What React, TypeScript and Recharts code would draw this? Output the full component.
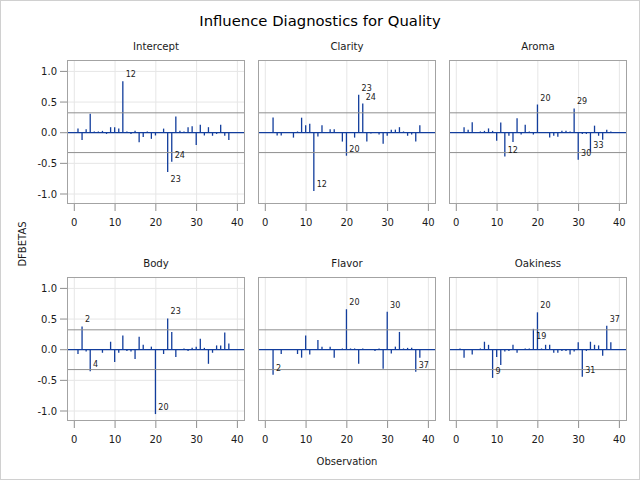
import {
  ComposedChart,
  Bar,
  Scatter,
  XAxis,
  YAxis,
  CartesianGrid,
  ReferenceLine,
} from "recharts";

const OBS = [
  1, 2, 3, 4, 5, 6, 7, 8, 9, 10, 11, 12, 13, 14, 15, 16, 17, 18, 19, 20, 21,
  22, 23, 24, 25, 26, 27, 28, 29, 30, 31, 32, 33, 34, 35, 36, 37, 38,
];

const INTERCEPT = [
  0.067, -0.12, 0.055, 0.31, 0.02, 0.02, 0.03, -0.02, 0.09, 0.09, 0.07, 0.84,
  0.02, -0.02, 0.03, -0.155, -0.07, 0.02, -0.1, -0.045, 0.0, 0.067, -0.64,
  -0.475, 0.265, 0.03, 0.02, 0.09, 0.105, -0.2, 0.13, -0.045, 0.09, -0.05,
  -0.02, 0.13, -0.05, -0.12,
];
const CLARITY = [
  0.0, 0.25, -0.045, -0.045, 0.0, 0.0, -0.08, 0.02, 0.245, 0.12, 0.145, -0.95,
  -0.06, 0.12, 0.0, 0.055, 0.055, 0.0, -0.145, -0.375, 0.0, -0.08, 0.62,
  0.475, -0.145, -0.015, 0.0, -0.03, -0.18, -0.05, 0.05, 0.05, 0.09, 0.02,
  -0.05, -0.03, -0.145, 0.12,
];
const AROMA = [
  0.0, 0.09, 0.05, 0.17, 0.0, 0.02, 0.03, 0.07, 0.03, -0.13, 0.165, -0.39,
  -0.05, -0.15, 0.235, -0.03, 0.13, 0.02, -0.03, 0.46, 0.0, 0.0, -0.08, -0.05,
  -0.065, 0.03, 0.03, 0.02, 0.395, -0.44, -0.02, -0.02, -0.31, 0.115, -0.05,
  -0.115, 0.05, 0.02,
];
const BODY = [
  -0.07, 0.38, -0.03, -0.35, 0.0, 0.0, -0.05, 0.0, 0.13, -0.2, -0.05, 0.23,
  -0.02, -0.03, -0.15, 0.21, 0.08, 0.0, 0.05, -1.05, 0.0, -0.07, 0.51, 0.29,
  -0.12, 0.0, 0.02, -0.02, 0.03, 0.05, 0.18, 0.03, -0.23, -0.05, 0.07, 0.07,
  0.28, 0.1,
];
const FLAVOR = [
  0.0, -0.41, 0.0, -0.07, 0.0, 0.0, 0.0, -0.07, -0.13, 0.23, -0.08, 0.0, 0.16,
  0.05, 0.0, 0.05, -0.13, 0.0, 0.02, 0.66, 0.02, 0.02, -0.23, 0.02, 0.0, 0.0,
  -0.02, 0.02, -0.31, 0.62, -0.06, 0.05, 0.29, 0.02, 0.03, 0.03, -0.36, -0.13,
];
const OAKINESS = [
  0.02, -0.13, 0.0, -0.08, 0.0, 0.02, 0.13, 0.08, -0.46, -0.12, -0.25, -0.03,
  -0.02, 0.08, -0.05, 0.0, 0.02, 0.02, 0.34, 0.61, 0.02, 0.08, 0.08, -0.05,
  -0.05, -0.02, -0.02, -0.08, -0.03, 0.12, -0.44, -0.02, 0.13, 0.08, 0.07,
  -0.1, 0.39, 0.12,
];

const INTERCEPT_LABELS = [12, 23, 24];
const CLARITY_LABELS = [12, 20, 23, 24];
const AROMA_LABELS = [12, 20, 29, 30, 33];
const BODY_LABELS = [2, 4, 20, 23];
const FLAVOR_LABELS = [2, 20, 30, 37];
const OAKINESS_LABELS = [9, 19, 20, 31, 37];

const X_TICKS = [0, 10, 20, 30, 40];
const Y_TICKS = [-1, -0.5, 0, 0.5, 1];
const CUTOFF = 0.3244; // 2 / sqrt(n), n = 38

const X_DOMAIN: [number, number] = [-1.79, 41.87];
const Y_DOMAIN: [number, number] = [-1.163, 1.186];

const COLORS = {
  needle: "#123d9c",
  grid: "#e6e6e6",
  refLine: "#8f8f8f",
  frame: "#a3a3a3",
  tick: "#8f8f8f",
  text: "#1a1a1a",
};

const FONT = "'DejaVu Sans', sans-serif";

const PLOT_W = 178;
const PLOT_H = 144;
const Y_AXIS_W = 60;
const X_AXIS_H = 30;
const TOP_PAD = 5;
const COL_LEFT = [67, 258, 449];
const ROW_TOP = [60, 277];

interface PanelSpec {
  title: string;
  values: number[];
  labels: number[];
  below: number[];
}

const PANELS: PanelSpec[] = [
  { title: "Intercept", values: INTERCEPT, labels: INTERCEPT_LABELS, below: [23] },
  { title: "Clarity", values: CLARITY, labels: CLARITY_LABELS, below: [] },
  { title: "Aroma", values: AROMA, labels: AROMA_LABELS, below: [] },
  { title: "Body", values: BODY, labels: BODY_LABELS, below: [] },
  { title: "Flavor", values: FLAVOR, labels: FLAVOR_LABELS, below: [] },
  { title: "Oakiness", values: OAKINESS, labels: OAKINESS_LABELS, below: [19] },
];

function Panel({
  spec,
  left,
  top,
  showY,
}: {
  spec: PanelSpec;
  left: number;
  top: number;
  showY: boolean;
}) {
  const data = OBS.map((obs, i) => ({ obs, v: spec.values[i] }));
  const marked = data.filter((d) => spec.labels.includes(d.obs));

  const renderLabel = (props: any) => {
    const { cx, cy, payload } = props;
    if (cx == null || cy == null) return <g />;
    const isBelow = spec.below.includes(payload.obs);
    return (
      <text
        x={cx + 2.5}
        y={isBelow ? cy + 10 : cy - 4}
        fontSize={8}
        fontFamily={FONT}
        fill={COLORS.text}
      >
        {payload.obs}
      </text>
    );
  };

  return (
    <div
      style={{
        position: "absolute",
        left: left - Y_AXIS_W,
        top: top - TOP_PAD,
      }}
    >
      <ComposedChart
        width={Y_AXIS_W + PLOT_W + 4}
        height={TOP_PAD + PLOT_H + X_AXIS_H}
        data={data}
        margin={{ top: TOP_PAD, right: 4, left: 0, bottom: 0 }}
      >
        <CartesianGrid
          stroke={COLORS.grid}
          horizontalValues={Y_TICKS}
          verticalValues={X_TICKS}
        />
        <XAxis
          dataKey="obs"
          type="number"
          domain={X_DOMAIN}
          ticks={X_TICKS}
          allowDataOverflow
          axisLine={false}
          tickLine={{ stroke: COLORS.tick }}
          tickSize={7}
          tickMargin={8}
          height={X_AXIS_H}
          interval={0}
          tick={{ fill: COLORS.text, fontSize: 10, fontFamily: FONT }}
        />
        <YAxis
          type="number"
          domain={Y_DOMAIN}
          ticks={Y_TICKS}
          allowDataOverflow
          width={Y_AXIS_W}
          axisLine={false}
          tickSize={7}
          tickMargin={3}
          interval={0}
          tickLine={showY ? { stroke: COLORS.tick } : false}
          tick={showY ? { fill: COLORS.text, fontSize: 10, fontFamily: FONT } : false}
          tickFormatter={(v: number) => v.toFixed(1)}
        />
        <ReferenceLine y={CUTOFF} stroke={COLORS.refLine} />
        <ReferenceLine y={-CUTOFF} stroke={COLORS.refLine} />
        <ReferenceLine y={0} stroke={COLORS.needle} strokeWidth={1.2} />
        <Bar
          dataKey="v"
          fill={COLORS.needle}
          barSize={1.3}
          isAnimationActive={false}
        />
        <Scatter
          data={marked}
          dataKey="v"
          shape={renderLabel}
          isAnimationActive={false}
        />
      </ComposedChart>
      <div
        style={{
          position: "absolute",
          left: Y_AXIS_W,
          top: TOP_PAD,
          width: PLOT_W,
          height: PLOT_H,
          border: `1px solid ${COLORS.frame}`,
          boxSizing: "border-box",
          pointerEvents: "none",
        }}
      />
    </div>
  );
}

export default function App() {
  return (
    <div
      style={{
        position: "absolute",
        left: 0,
        top: 0,
        width: 640,
        height: 480,
        background: "#fff",
        border: "1px solid #d0d0d0",
        boxSizing: "border-box",
        overflow: "hidden",
      }}
    >
      <svg
        width={640}
        height={480}
        style={{ position: "absolute", left: -1, top: -1 }}
        fontFamily={FONT}
      >
        <text x={320} y={26} textAnchor="middle" fontSize={14.8} fill="#000">
          Influence Diagnostics for Quality
        </text>
        {PANELS.map((p, i) => (
          <text
            key={p.title}
            x={COL_LEFT[i % 3] + PLOT_W / 2}
            y={ROW_TOP[Math.floor(i / 3)] - 10}
            textAnchor="middle"
            fontSize={10.2}
            fill={COLORS.text}
          >
            {p.title}
          </text>
        ))}
        <text
          transform="translate(26,244) rotate(-90)"
          textAnchor="middle"
          fontSize={10}
          fill={COLORS.text}
        >
          DFBETAS
        </text>
        <text
          x={COL_LEFT[1] + PLOT_W / 2}
          y={465}
          textAnchor="middle"
          fontSize={10}
          fill={COLORS.text}
        >
          Observation
        </text>
      </svg>
      <div style={{ position: "absolute", left: -1, top: -1 }}>
        {PANELS.map((p, i) => (
          <Panel
            key={p.title}
            spec={p}
            left={COL_LEFT[i % 3]}
            top={ROW_TOP[Math.floor(i / 3)]}
            showY={i % 3 === 0}
          />
        ))}
      </div>
    </div>
  );
}
